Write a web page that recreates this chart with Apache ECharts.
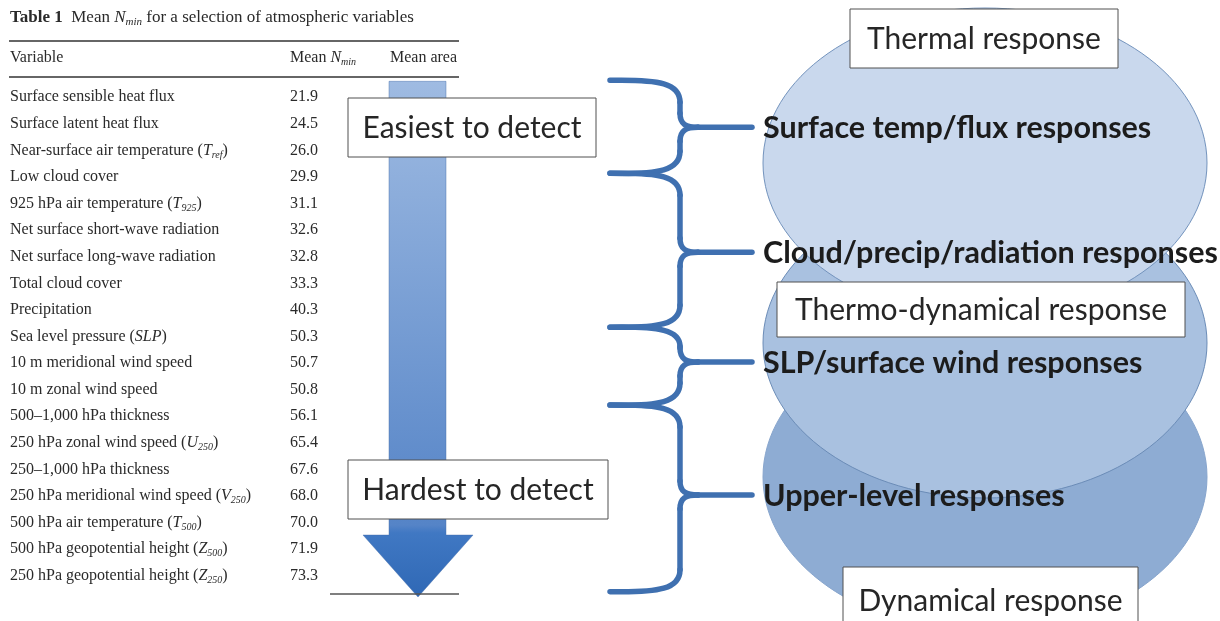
<!DOCTYPE html>
<html><head><meta charset="utf-8">
<script src="https://cdn.jsdelivr.net/npm/echarts@6/dist/echarts.min.js"></script>
<style>html,body{margin:0;padding:0;background:#fff}#c{width:1220px;height:621px}</style>
</head><body><div id="c"></div>
<script>
// ---------- data ----------
const variables = [
  'Surface sensible heat flux',
  'Surface latent heat flux',
  'Near-surface air temperature (T_{ref})',
  'Low cloud cover',
  '925 hPa air temperature (T_{925})',
  'Net surface short-wave radiation',
  'Net surface long-wave radiation',
  'Total cloud cover',
  'Precipitation',
  'Sea level pressure (SLP)',
  '10 m meridional wind speed',
  '10 m zonal wind speed',
  '500\u20131,000 hPa thickness',
  '250 hPa zonal wind speed (U_{250})',
  '250\u20131,000 hPa thickness',
  '250 hPa meridional wind speed (V_{250})',
  '500 hPa air temperature (T_{500})',
  '500 hPa geopotential height (Z_{500})',
  '250 hPa geopotential height (Z_{250})'
];
const meanNmin = [21.9, 24.5, 26.0, 29.9, 31.1, 32.6, 32.8, 33.3, 40.3, 50.3, 50.7, 50.8, 56.1, 65.4, 67.6, 68.0, 70.0, 71.9, 73.3];
const columnHeaders = ['Variable', 'Mean {i|N}{s|min}', 'Mean area'];
const tableTitle = '{b|Table 1}  Mean {i|N}{s|min} for a selection of atmospheric variables';
const detectLabels = ['Easiest to detect', 'Hardest to detect'];
const responseLabels = ['Surface temp/flux responses', 'Cloud/precip/radiation responses', 'SLP/surface wind responses', 'Upper-level responses'];
// row spans (start row, pointer row, end row) of each response group
const responseRows = [[-0.64, 1.13, 2.86], [2.86, 5.83, 8.65], [8.65, 9.96, 11.58], [11.58, 14.96, 18.6]];
const regimeLabels = ['Thermal response', 'Thermo-dynamical response', 'Dynamical response'];

// ---------- helpers ----------
const SERIF = 'Liberation Serif';
const SANS = 'Lato';
const INK = '#2a2a2a';
function richName(s) {
  return s.replace(/\(([^)]*)\)/g, function (m, inner) {
    const conv = inner.replace(/([A-Za-z]+)_\{([^}]*)\}/g, '{i|$1}{s|$2}');
    if (conv === inner) return '({i|' + inner + '})';
    return '(' + conv + ')';
  });
}
function serifRich(fs) {
  const ss = Math.round(fs * 0.64);
  return {
    b: {fontFamily: SERIF, fontSize: fs, fontWeight: 'bold', color: INK, lineHeight: fs + 3},
    n: {fontFamily: SERIF, fontSize: fs, color: INK, lineHeight: fs + 3},
    i: {fontFamily: SERIF, fontSize: fs, fontStyle: 'italic', color: INK, lineHeight: fs + 3},
    s: {fontFamily: SERIF, fontSize: ss, fontStyle: 'italic', color: INK, lineHeight: ss + 1, verticalAlign: 'bottom'}
  };
}

const chart = echarts.init(document.getElementById('c'));
const GRID_TOP = 84, GRID_H = 505;
const TFS = 16;   // table font size
const BFS = 30;   // box font size

function box(x, y, w, h, text, fs) {
  return [
    {type: 'rect', z: 100, shape: {x: x, y: y, width: w, height: h}, style: {fill: '#fff', stroke: '#505050', lineWidth: 1}},
    {type: 'text', z: 101, style: {text: text, x: x + w / 2, y: y + h / 2 + 1, align: 'center', verticalAlign: 'middle', font: fs + 'px ' + SANS, fill: '#262626'}}
  ];
}

const graphics = [
  // response regimes (ellipses), back to front
  {type: 'ellipse', z: 0, shape: {cx: 985, cy: 477, rx: 222, ry: 155}, style: {fill: '#8eacd3', stroke: '#87a5cd', lineWidth: 1}},
  {type: 'ellipse', z: 0, shape: {cx: 985, cy: 343, rx: 222, ry: 155}, style: {fill: '#a9c1e0', stroke: '#6b8cb7', lineWidth: 1}},
  {type: 'ellipse', z: 0, shape: {cx: 985, cy: 163, rx: 222, ry: 155}, style: {fill: '#c9d8ed', stroke: '#7393bd', lineWidth: 1}},
  // table title, rules, headers
  {type: 'text', z: 100, style: {text: tableTitle, x: 10, y: 18, verticalAlign: 'middle', font: '17px ' + SERIF, fill: INK, rich: serifRich(17)}},
  {type: 'line', z: 100, shape: {x1: 9, y1: 41, x2: 459, y2: 41}, style: {stroke: '#333', lineWidth: 1.6}},
  {type: 'line', z: 100, shape: {x1: 9, y1: 77, x2: 459, y2: 77}, style: {stroke: '#333', lineWidth: 1.6}},
  {type: 'line', z: 100, shape: {x1: 330, y1: 594, x2: 459, y2: 594}, style: {stroke: '#555', lineWidth: 1.4}},
  {type: 'text', z: 100, style: {text: columnHeaders[0], x: 10, y: 58, verticalAlign: 'middle', font: TFS + 'px ' + SERIF, fill: INK}},
  {type: 'text', z: 100, style: {text: columnHeaders[1], x: 290, y: 58, verticalAlign: 'middle', font: TFS + 'px ' + SERIF, fill: INK, rich: serifRich(TFS)}},
  {type: 'text', z: 100, style: {text: columnHeaders[2], x: 390, y: 58, verticalAlign: 'middle', font: TFS + 'px ' + SERIF, fill: INK}}
]
  .concat(box(348, 98, 248, 59, detectLabels[0], BFS))
  .concat(box(348, 460, 260, 59, detectLabels[1], BFS))
  .concat(box(850, 9, 268, 59, regimeLabels[0], BFS))
  .concat(box(777, 282, 408, 55, regimeLabels[1], BFS))
  .concat(box(843, 567, 295, 66, regimeLabels[2], BFS));

const option = {
  animation: false,
  backgroundColor: '#ffffff',
  tooltip: {show: false},
  grid: {left: 0, right: 0, top: GRID_TOP, height: GRID_H},
  xAxis: {type: 'value', min: 0, max: 1220, show: false},
  yAxis: [
    {
      type: 'category', inverse: true, data: variables, position: 'left',
      axisLine: {show: false}, axisTick: {show: false}, splitLine: {show: false},
      axisLabel: {inside: true, margin: 10, align: 'left', interval: 0, formatter: richName,
        fontFamily: SERIF, fontSize: TFS, color: INK, lineHeight: TFS + 3, rich: serifRich(TFS)}
    },
    {
      type: 'category', inverse: true, data: meanNmin.map(function (v) { return v.toFixed(1); }), position: 'left',
      axisLine: {show: false}, axisTick: {show: false}, splitLine: {show: false},
      axisLabel: {inside: true, margin: 290, align: 'left', interval: 0, fontFamily: SERIF, fontSize: TFS, color: INK}
    },
    {type: 'value', inverse: true, min: -0.5, max: variables.length - 0.5, show: false}
  ],
  graphic: graphics,
  series: [
    {
      // "Mean area" ranking arrow spanning all rows
      type: 'custom', xAxisIndex: 0, yAxisIndex: 2, silent: true, clip: false, z: 5,
      data: [[0, 0]],
      renderItem: function (params, api) {
        const last = variables.length - 1;
        const yTop = api.coord([0, -0.6])[1];
        const yHead = api.coord([0, last - 1.53])[1];
        const yTip = api.coord([0, last + 0.8])[1];
        const sL = 389, sR = 446, hL = 363, hR = 473, cx = 418;
        return {
          type: 'polygon',
          shape: {points: [[sL, yTop], [sR, yTop], [sR, yHead], [hR, yHead], [cx, yTip], [hL, yHead], [sL, yHead]]},
          style: {
            fill: new echarts.graphic.LinearGradient(0, 0, 0, 1, [
              {offset: 0, color: '#9fbbe2'},
              {offset: 0.86, color: '#5584c7'},
              {offset: 0.875, color: '#4078c3'},
              {offset: 1, color: '#2f68b5'}
            ]),
            stroke: 'rgba(70,110,170,0.45)', lineWidth: 1
          }
        };
      }
    },
    {
      // curly braces grouping rows into response types
      type: 'custom', xAxisIndex: 0, yAxisIndex: 2, silent: true, clip: false, z: 6,
      data: responseRows.map(function (r, i) { return [r[0], r[1], r[2], i]; }),
      renderItem: function (params, api) {
        const y0 = api.coord([0, api.value(0)])[1];
        const yt = api.coord([0, api.value(1)])[1];
        const y1 = api.coord([0, api.value(2)])[1];
        const idx = api.value(3);
        const x0 = 610, xv = 680, xt = 752;
        const r1a = Math.min(22, (yt - y0) * 0.55), r2a = Math.min(14, (yt - y0) * 0.4);
        const r1b = Math.min(22, (y1 - yt) * 0.55), r2b = Math.min(14, (y1 - yt) * 0.4);
        const st = {stroke: '#3f70b0', lineWidth: 5.5, lineCap: 'round', fill: null};
        const xs = xv + 18;
        return {
          type: 'group',
          children: [
            {type: 'bezierCurve', shape: {x1: x0, y1: y0, cpx1: xv - 20, cpy1: y0 - 1, cpx2: xv, cpy2: y0 + 3, x2: xv, y2: y0 + r1a}, style: st},
            {type: 'line', shape: {x1: xv, y1: y0 + r1a, x2: xv, y2: yt - r2a}, style: st},
            {type: 'bezierCurve', shape: {x1: xv, y1: yt - r2a, cpx1: xv, cpy1: yt - 3, cpx2: xv + 6, cpy2: yt, x2: xs, y2: yt}, style: st},
            {type: 'line', shape: {x1: xs, y1: yt, x2: xt, y2: yt}, style: st},
            {type: 'bezierCurve', shape: {x1: xs, y1: yt, cpx1: xv + 6, cpy1: yt, cpx2: xv, cpy2: yt + 3, x2: xv, y2: yt + r2b}, style: st},
            {type: 'line', shape: {x1: xv, y1: yt + r2b, x2: xv, y2: y1 - r1b}, style: st},
            {type: 'bezierCurve', shape: {x1: xv, y1: y1 - r1b, cpx1: xv, cpy1: y1 - 3, cpx2: xv - 20, cpy2: y1 + 1, x2: x0, y2: y1}, style: st},
            {type: 'text', style: {text: responseLabels[idx], x: 763, y: yt + 1, align: 'left', verticalAlign: 'middle', font: 'bold 30.5px ' + SANS, fill: '#1c1c1c'}}
          ]
        };
      }
    }
  ]
};
chart.setOption(option);
</script>
</body></html>
